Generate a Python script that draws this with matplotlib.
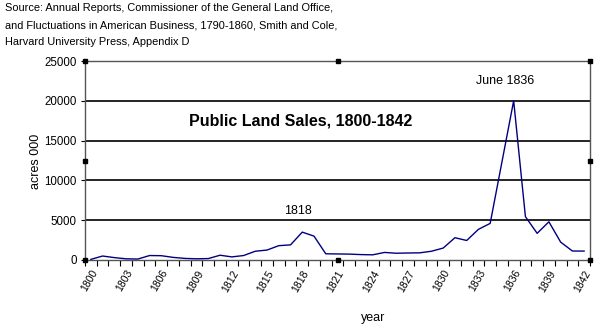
import matplotlib
matplotlib.use("Agg")
import matplotlib.pyplot as plt
import numpy as np

plt.rcParams['font.family'] = ['Liberation Sans', 'DejaVu Sans']

years = list(range(1800, 1843))
sales = [80, 500, 300, 150, 120, 560, 540, 330, 200, 150, 180, 600, 390, 560, 1100,
         1250, 1800, 1900, 3500, 3000, 780, 760, 740, 680, 650, 950, 850, 880, 900,
         1100, 1500, 2800, 2450, 3850, 4600, 12300, 20000, 5450, 3350, 4800, 2250,
         1130, 1120]
tick_labels = [str(y) for y in years[::3]]
yticks = [0, 5000, 10000, 15000, 20000, 25000]

fig = plt.figure(figsize=(6.0, 3.32), dpi=100)
ax = fig.add_axes([85/600, 1-260/332, 505/600, 199/332])

x = np.arange(len(years))
ax.plot(x, sales, color='#000080', lw=1.0, zorder=3)

ax.set_xlim(-0.5, len(years) - 0.5)
ax.set_ylim(0, 25000)

for g in yticks[1:-1]:
    ax.axhline(g, color='black', lw=1.2, zorder=1)

ax.set_yticks(yticks)
ax.set_yticklabels([str(v) for v in yticks], fontsize=8.3)
ax.set_xticks(x[::3])
ax.set_xticklabels(tick_labels, rotation=60, fontsize=7.5, ha='right', va='top',
                   rotation_mode='anchor')
ax.set_xticks(np.arange(-0.5, len(years)), minor=True)
ax.tick_params(axis='x', which='major', length=0, pad=6)
ax.tick_params(axis='x', which='minor', length=4, width=0.8, color='black')
ax.tick_params(axis='y', length=3, width=0.8, pad=3)

for s in ax.spines.values():
    s.set_linestyle((0, (1, 1)))
    s.set_color('#555555')
    s.set_linewidth(1.0)

fig.text(36/600, 1-161/332, 'acres 000', fontsize=9, ha='center', va='center',
         rotation=90)
fig.text(373/600, 1-318/332, 'year', fontsize=9, ha='center', va='center')

ax.text(0.428, 0.70, 'Public Land Sales, 1800-1842', transform=ax.transAxes,
        fontsize=11.5, fontweight='bold', ha='center', va='center')
ax.text(17.6, 6200, '1818', fontsize=9, ha='center', va='center')
ax.text(35.3, 22500, 'June 1836', fontsize=9, ha='center', va='center')

# selection handles
for hx, hy in [(0, 0), (0.5, 0), (1, 0), (0, 0.5), (1, 0.5), (0, 1), (0.5, 1), (1, 1)]:
    ax.plot(hx, hy, marker='s', ms=3, color='black', transform=ax.transAxes,
            clip_on=False, zorder=5)

src_lines = ['Source: Annual Reports, Commissioner of the General Land Office,',
             'and Fluctuations in American Business, 1790-1860, Smith and Cole,',
             'Harvard University Press, Appendix D']
for k, line in enumerate(src_lines):
    fig.text(5/600, 1-(8 + 17*k)/332, line, fontsize=7.9, ha='left', va='center')

fig.savefig('out.png', dpi=100)
